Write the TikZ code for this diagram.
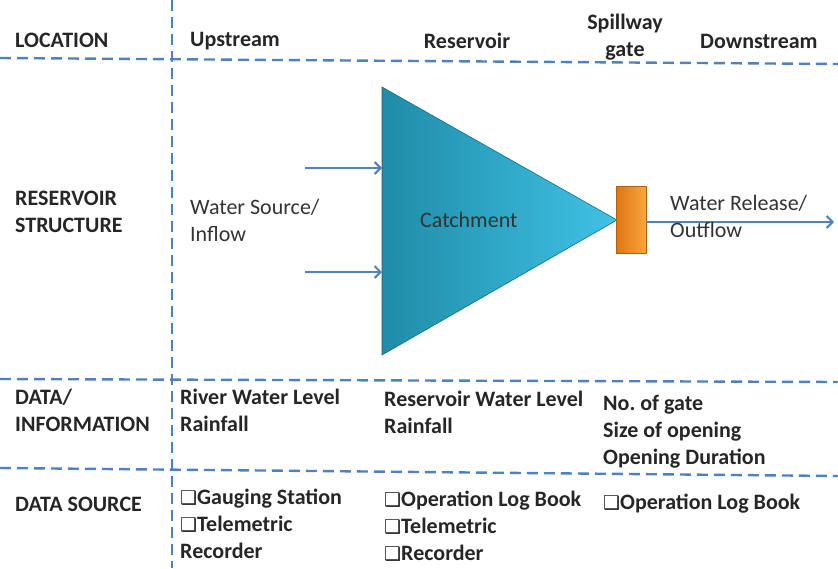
\documentclass[tikz,border=0pt]{standalone}
\usepackage{fontspec}
\setmainfont{Carlito}
\newfontfamily\boxfont{DejaVu Sans}
\usetikzlibrary{arrows.meta,positioning}
\definecolor{lineblue}{HTML}{4F81BD}
\definecolor{tealdark}{HTML}{1F8CA8}
\definecolor{teallight}{HTML}{40C2E6}
\definecolor{orangedark}{HTML}{E0760F}
\definecolor{orangelight}{HTML}{F8A640}
\newcommand{\chk}{{\boxfont\fontsize{19}{16}\selectfont ❑}}
\tikzset{
  grid/.style={lineblue, line width=2.4pt, dash pattern=on 11pt off 6pt},
  flow/.style={lineblue, line width=2pt, -{Straight Barb[length=6pt,width=12pt,line width=2pt]}},
  head/.style={font=\fontsize{22}{27}\selectfont\bfseries, text=black!85, anchor=west, inner sep=0pt},
  plain/.style={font=\fontsize{22}{27}\selectfont, text=black!80, anchor=west, inner sep=0pt},
  cell/.style={head, align=left, anchor=north west},
}
\begin{document}
\begin{tikzpicture}[x=1pt, y=-1pt]
  \useasboundingbox (0,0) rectangle (838,568);
  % grid lines
  \coordinate (vtop) at (172,0);
  \coordinate (vbot) at (172,568);
  \draw[grid] (vtop) -- (vbot);
  \coordinate (h1l) at (0,58);   \coordinate (h1r) at (838,64);
  \coordinate (h2l) at (0,379);  \coordinate (h2r) at (838,382);
  \coordinate (h3l) at (0,468);  \coordinate (h3r) at (838,476);
  \draw[grid] (h1l) -- (h1r);
  \draw[grid] (h2l) -- (h2r);
  \draw[grid] (h3l) -- (h3r);

  % row titles
  \node[head] (loc) at (15,40) {LOCATION};
  \node[cell] (rs) at (15,191) {RESERVOIR\\STRUCTURE};
  \node[cell] (di) at (15,389) {DATA/\\INFORMATION};
  \node[head] (ds) at (15,504) {DATA SOURCE};

  % location header
  \node[head] (up) at (190,41) {Upstream};
  \node[head, anchor=center] (res) at (467,41) {Reservoir};
  \node[head, align=center, anchor=center] (spill) at (625,37) {Spillway\\gate};
  \node[head] (down) at (700,41) {Downstream};

  % reservoir structure
  \coordinate (ta) at (382,87);
  \coordinate (tb) at (382,355);
  \coordinate (tc) at (617,220);
  \draw[tealdark!75!black, line width=0.6pt, left color=tealdark, right color=teallight]
    (ta) -- (tc) -- (tb) -- cycle;
  \node[plain] (catch) at (420,220) {Catchment};
  \node[draw=orangedark!80!black, line width=0.6pt, minimum width=30pt, minimum height=67pt,
        inner sep=0pt, left color=orangedark, right color=orangelight] (gate) at (631,220) {};
  \coordinate (in1) at (305,168);
  \coordinate (in2) at (305,272);
  \draw[flow] (in1) -- (in1 -| ta);
  \draw[flow] (in2) -- (in2 -| ta);
  \node[plain, align=left, anchor=north west] (src) at (190,199) {Water Source/\\Inflow};
  \coordinate (out) at (834,222);
  \draw[flow] (gate.east |- out) -- (out);
  \node[plain, align=left, anchor=north west] (rel) at (670,195) {Water Release/\\Outflow};

  % data / information
  \node[cell] (up-di) at (180,389) {River Water Level\\Rainfall};
  \node[cell] (res-di) at (384,391) {Reservoir Water Level\\Rainfall};
  \node[cell] (gate-di) at (603,395) {No.\ of gate\\Size of opening\\Opening Duration};

  % data source
  \node[cell] (up-ds) at (180,489) {\chk Gauging Station\\\chk Telemetric\\Recorder};
  \node[cell] (res-ds) at (384,491) {\chk Operation Log Book\\\chk Telemetric\\\chk Recorder};
  \node[cell] (gate-ds) at (603,494) {\chk Operation Log Book};
\end{tikzpicture}
\end{document}
